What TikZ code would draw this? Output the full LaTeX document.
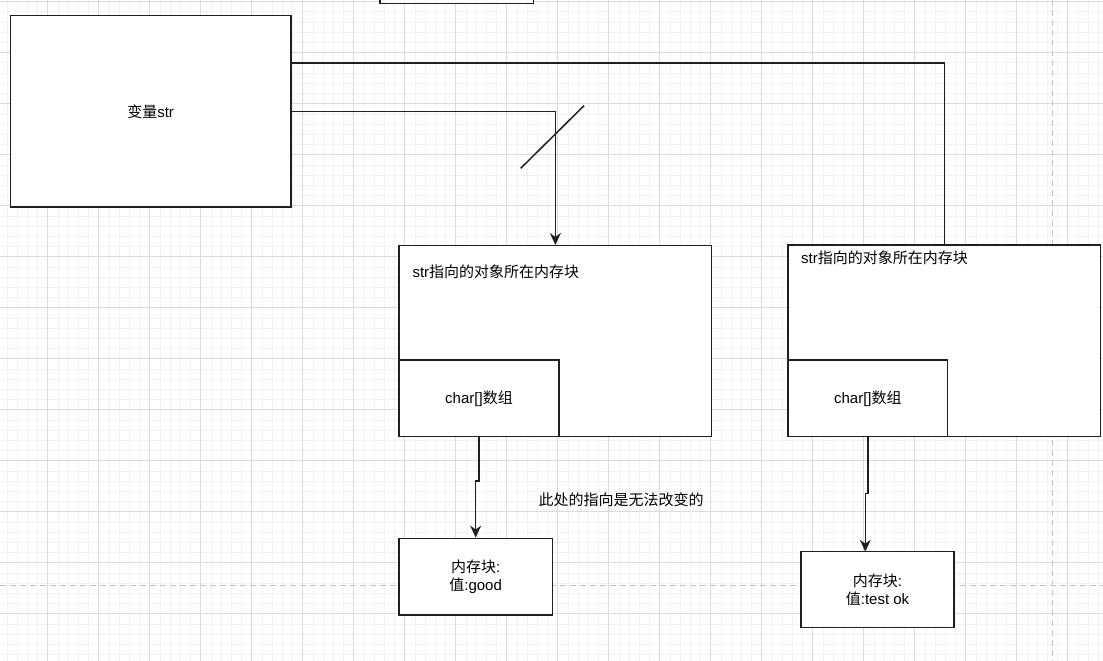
\documentclass[tikz,border=0pt]{standalone}
\usepackage{fontspec}
\setmainfont{Liberation Sans}
\newfontfamily\cjk{Noto Sans CJK SC}
\usetikzlibrary{arrows.meta,calc}
\definecolor{gminor}{HTML}{F2F2F2}
\definecolor{gmajor}{HTML}{DCDCDC}
\definecolor{pagedash}{HTML}{C4C4C4}
\definecolor{edge}{HTML}{1F1F1F}
\begin{document}
\begin{tikzpicture}[x=1pt,y=-1pt,
  box/.style={draw=edge,fill=white,line width=1.5pt,inner sep=0pt,minimum width=#1},
  link/.style={draw=edge,line width=1.5pt},
  tip/.style={-{Stealth[length=12pt,width=11pt,inset=4pt]}},
  txt/.style={font=\fontsize{15}{18}\selectfont,inner sep=0pt,align=center}]
\useasboundingbox (0,0) rectangle (1103,661);
\fill[white] (0,0) rectangle (1103,661);
% grid
\foreach \i in {0,...,107} {\pgfmathsetmacro\gx{6.9+10.2*\i}\draw[gminor,line width=0.8pt] (\gx,0) -- (\gx,661);}
\foreach \i in {0,...,64} {\pgfmathsetmacro\gy{1.7+10.2*\i}\draw[gminor,line width=0.8pt] (0,\gy) -- (1103,\gy);}
\foreach \i in {0,...,21} {\pgfmathsetmacro\gx{-3.3+51*\i}\draw[gmajor,line width=0.9pt] (\gx,0) -- (\gx,661);}
\foreach \i in {0,...,12} {\pgfmathsetmacro\gy{1.7+51*\i}\draw[gmajor,line width=0.9pt] (0,\gy) -- (1103,\gy);}
% page breaks
\draw[pagedash,line width=1.3pt,dash pattern=on 6pt off 4pt] (1052.5,0) -- (1052.5,661);
\draw[pagedash,line width=1.3pt,dash pattern=on 6pt off 4pt] (0,585.7) -- (1103,585.7);
% boxes
\node[box=153.3pt,minimum height=23.3pt] (top) at (456.7,-8.35) {};
\node[box=280.7pt,minimum height=191.3pt,txt] (var) at (150.65,111.35) {{\cjk 变量}str};
\node[box=312.7pt,minimum height=191pt] (obj1) at (555.35,341.2) {};
\node[box=160pt,minimum height=76.7pt,txt] (arr1) at (479,398.35) {char[]{\cjk 数组}};
\node[box=153.3pt,minimum height=76.7pt,txt] (mem1) at (475.65,576.65) {{\cjk 内存块}:\\{\cjk 值}:good};
\node[box=312.7pt,minimum height=191.7pt] (obj2) at (944.35,340.85) {};
\node[box=159.7pt,minimum height=76.7pt,txt] (arr2) at (867.85,398.35) {char[]{\cjk 数组}};
\node[box=153pt,minimum height=76pt,txt] (mem2) at (877.5,589.7) {{\cjk 内存块}:\\{\cjk 值}:test ok};
\node[txt,anchor=west] (t1) at (412.3,271.7) {str{\cjk 指向的对象所在内存块}};
\node[txt,anchor=west] (t2) at (801,258) {str{\cjk 指向的对象所在内存块}};
\node[txt] (note) at (621,500) {\cjk 此处的指向是无法改变的};
% connectors
\coordinate (v2) at ($(var.north east)!0.25!(var.south east)$);
\draw[link] (v2) -| (obj2.north);
\draw[link,tip] (var.east) -| (obj1.north);
\coordinate (s1) at (520.7,168.3);
\coordinate (s2) at (584,105.7);
\draw[edge,line width=1.5pt] (s1) -- (s2);
\draw[link,tip] (arr1.south) -- (arr1.south |- 0,481) -- (mem1.north |- 0,481) -- (mem1.north);
\coordinate (m2t) at (865.3,551.7);
\draw[link,tip] (arr2.south) -- (arr2.south |- 0,493.3) -- (m2t |- 0,493.3) -- (m2t);
\end{tikzpicture}
\end{document}
